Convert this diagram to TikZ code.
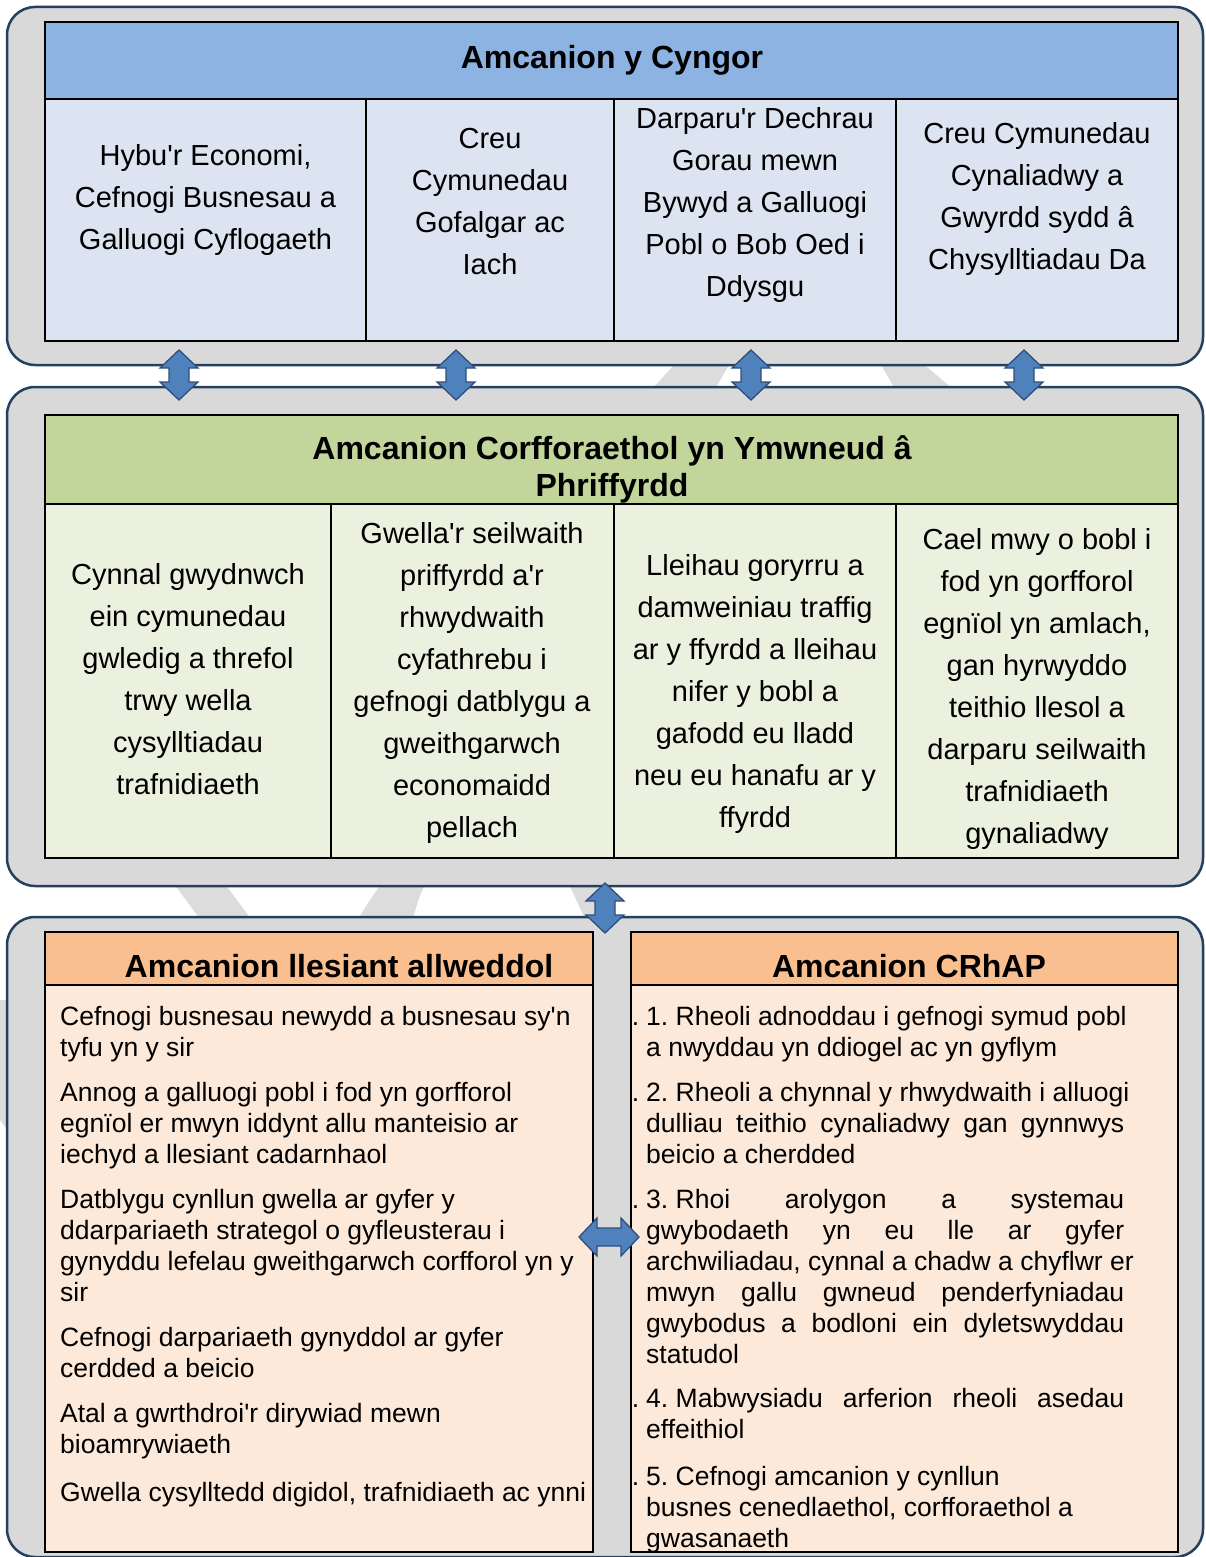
\documentclass[tikz,border=0pt]{standalone}
\usepackage{fontspec}
\setmainfont{Liberation Sans}
\definecolor{navy}{HTML}{243F60}
\definecolor{cgray}{HTML}{D9D9D9}
\definecolor{wmgray}{HTML}{DCDCDC}
\definecolor{hblue}{HTML}{8DB3E2}
\definecolor{bblue}{HTML}{DCE4F1}
\definecolor{hgreen}{HTML}{C2D69B}
\definecolor{bgreen}{HTML}{EBF1DE}
\definecolor{horange}{HTML}{FABF8F}
\definecolor{borange}{HTML}{FDE9D9}
\definecolor{arrblue}{HTML}{4F81BD}
\definecolor{arrline}{HTML}{2F4F7A}
\newcommand\jline[1]{\makebox[478pt][s]{#1}}
\newcommand\q{\textquotesingle}
\newcommand\fsp{\hspace{0.278em}}
\frenchspacing
\tikzset{
  container/.style={draw=navy, line width=2.5pt, fill=cgray, rounded corners=28pt, anchor=north west, inner sep=0pt, outer sep=0pt},
  cellbox/.style={draw=black, line width=2pt, anchor=north west, inner sep=0pt, outer sep=0pt},
  celltext/.style={font=\fontsize{29}{42}\selectfont, align=center, inner sep=0pt, execute at begin node=\strut, execute at end node=\strut},
  hdr/.style={font=\fontsize{32}{37}\selectfont\bfseries, align=center, inner sep=0pt},
  item/.style={font=\fontsize{26.5}{31}\selectfont, align=left, anchor=north west, inner sep=0pt, execute at begin node=\strut},
  wm/.style={fill=wmgray, draw=none},
  arrowshape/.style={fill=arrblue, draw=arrline, line width=1.3pt, line join=miter},
  vdarrow/.pic={\filldraw[arrowshape] (0,-25) -- (19,-7) -- (10,-7) -- (10,7) -- (19,7) -- (0,25) -- (-19,7) -- (-10,7) -- (-10,-7) -- (-19,-7) -- cycle;},
  hdarrow/.pic={\filldraw[arrowshape] (-30,0) -- (-12,-19) -- (-12,-9) -- (12,-9) -- (12,-19) -- (30,0) -- (12,19) -- (12,9) -- (-12,9) -- (-12,19) -- cycle;}
}
\begin{document}
\begin{tikzpicture}[x=1pt,y=-1pt]
\useasboundingbox (0,0) rectangle (1205,1557);
\fill[white] (0,0) rectangle (1205,1557);
% watermark fragments
\fill[wm] (652,389) -- (676,363) -- (730,363) -- (715,389) -- cycle;
\fill[wm] (880,363) -- (922,363) -- (953,389) -- (895,389) -- cycle;
\fill[wm] (174,884) -- (225,884) -- (251,919) -- (200,919) -- cycle;
\fill[wm] (381,884) -- (425,884) .. controls (418,900) .. (413,919) -- (358,919) .. controls (370,900) .. cycle;
\fill[wm] (569,884) -- (598,884) -- (598,919) -- (585,919) -- cycle;
\fill[wm] (0,1000) -- (6,1000) -- (6,1128) -- (0,1120) -- cycle;

% containers
\node[container, minimum width=1196pt, minimum height=358pt] (c1) at (7,7) {};
\node[container, minimum width=1196pt, minimum height=499pt] (c2) at (7,387) {};
\node[container, minimum width=1196pt, minimum height=640pt] (c3) at (7,917) {};

% top table
\node[cellbox, fill=hblue, minimum width=1133pt, minimum height=77pt] (th) at (45,22) {};
\node[cellbox, fill=bblue, minimum width=321pt, minimum height=242pt] (tb1) at (45,99) {};
\node[cellbox, fill=bblue, minimum width=248pt, minimum height=242pt] (tb2) at (366,99) {};
\node[cellbox, fill=bblue, minimum width=282pt, minimum height=242pt] (tb3) at (614,99) {};
\node[cellbox, fill=bblue, minimum width=282pt, minimum height=242pt] (tb4) at (896,99) {};

% middle table
\node[cellbox, fill=hgreen, minimum width=1133pt, minimum height=89pt] (mh) at (45,415) {};
\node[cellbox, fill=bgreen, minimum width=286pt, minimum height=354pt] (mb1) at (45,504) {};
\node[cellbox, fill=bgreen, minimum width=283pt, minimum height=354pt] (mb2) at (331,504) {};
\node[cellbox, fill=bgreen, minimum width=282pt, minimum height=354pt] (mb3) at (614,504) {};
\node[cellbox, fill=bgreen, minimum width=282pt, minimum height=354pt] (mb4) at (896,504) {};

% bottom boxes
\node[cellbox, fill=borange, minimum width=548pt, minimum height=620pt] (lb) at (45,932) {};
\node[cellbox, fill=horange, minimum width=548pt, minimum height=53pt] (lh) at (45,932) {};
\node[cellbox, fill=borange, minimum width=547pt, minimum height=620pt] (rb) at (631,932) {};
\node[cellbox, fill=horange, minimum width=547pt, minimum height=53pt] (rh) at (631,932) {};

% headers
\node[hdr, anchor=base] (t0) at (612,68.5) {Amcanion y Cyngor};
\node[hdr, execute at begin node=\strut, execute at end node=\strut] (m0) at (612,472) {Amcanion Corfforaethol yn Ymwneud â\\Phriffyrdd};
\node[hdr, anchor=base] (l0) at (339,977.5) {Amcanion llesiant allweddol};
\node[hdr, anchor=base] (r0) at (909,977.5) {Amcanion CRhAP};

% top cell texts
\node[celltext] (t1) at (205.5,203) {Hybu\q r Economi,\\Cefnogi Busnesau a\\Galluogi Cyflogaeth};
\node[celltext] (t2) at (490,208) {Creu\\Cymunedau\\Gofalgar ac\\Iach};
\node[celltext] (t3) at (755,208) {Darparu\q r Dechrau\\Gorau mewn\\Bywyd a Galluogi\\Pobl o Bob Oed i\\Ddysgu};
\node[celltext] (t4) at (1037,202) {Creu Cymunedau\\Cynaliadwy a\\Gwyrdd sydd â\\Chysylltiadau Da};

% middle cell texts
\node[celltext] (m1) at (188,685) {Cynnal gwydnwch\\ein cymunedau\\gwledig a threfol\\trwy wella\\cysylltiadau\\trafnidiaeth};
\node[celltext] (m2) at (472,686) {Gwella\q r seilwaith\\priffyrdd a\q r\\rhwydwaith\\cyfathrebu i\\gefnogi datblygu a\\gweithgarwch\\economaidd\\pellach};
\node[celltext] (m3) at (755,697) {Lleihau goryrru a\\damweiniau traffig\\ar y ffyrdd a lleihau\\nifer y bobl a\\gafodd eu lladd\\neu eu hanafu ar y\\ffyrdd};
\node[celltext] (m4) at (1037,692) {Cael mwy o bobl i\\fod yn gorfforol\\egnïol yn amlach,\\gan hyrwyddo\\teithio llesol a\\darparu seilwaith\\trafnidiaeth\\gynaliadwy};

% left items
\node[item] (l1) at (60,1005.9) {Cefnogi busnesau newydd a busnesau sy\q n\\tyfu yn y sir};
\node[item] (l2) at (60,1081.9) {Annog a galluogi pobl i fod yn gorfforol\\egnïol er mwyn iddynt allu manteisio ar\\iechyd a llesiant cadarnhaol};
\node[item] (l3) at (60,1188.9) {Datblygu cynllun gwella ar gyfer y\\ddarpariaeth strategol o gyfleusterau i\\gynyddu lefelau gweithgarwch corfforol yn y\\sir};
\node[item] (l4) at (60,1326.9) {Cefnogi darpariaeth gynyddol ar gyfer\\cerdded a beicio};
\node[item] (l5) at (60,1402.9) {Atal a gwrthdroi\q r dirywiad mewn\\bioamrywiaeth};
\node[item] (l6) at (60,1479.9) {Gwella cysylltedd digidol, trafnidiaeth ac ynni};

% right items
\node[item] (r1) at (646,1005.9) {\llap{.\hspace{7pt}}1.\fsp Rheoli adnoddau i gefnogi symud pobl\\a nwyddau yn ddiogel ac yn gyflym};
\node[item] (r2) at (646,1081.9) {\llap{.\hspace{7pt}}2.\fsp Rheoli a chynnal y rhwydwaith i alluogi\\\jline{dulliau teithio cynaliadwy gan gynnwys}\\beicio a cherdded};
\node[item] (r3) at (646,1188.9) {\llap{.\hspace{7pt}}\jline{3.\fsp Rhoi arolygon a systemau}\\\jline{gwybodaeth yn eu lle ar gyfer}\\archwiliadau, cynnal a chadw a chyflwr er\\\jline{mwyn gallu gwneud penderfyniadau}\\\jline{gwybodus a bodloni ein dyletswyddau}\\statudol};
\node[item] (r4) at (646,1387.9) {\llap{.\hspace{7pt}}\jline{4.\fsp Mabwysiadu arferion rheoli asedau}\\effeithiol};
\node[item] (r5) at (646,1465.9) {\llap{.\hspace{7pt}}5.\fsp Cefnogi amcanion y cynllun\\busnes cenedlaethol, corfforaethol a\\gwasanaeth};

% connectors (double arrows)
\pic at (179,375) {vdarrow};
\pic at (456,375) {vdarrow};
\pic at (751,375) {vdarrow};
\pic at (1024,375) {vdarrow};
\pic at (605,908) {vdarrow};
\pic at (609,1237) {hdarrow};
\end{tikzpicture}
\end{document}
